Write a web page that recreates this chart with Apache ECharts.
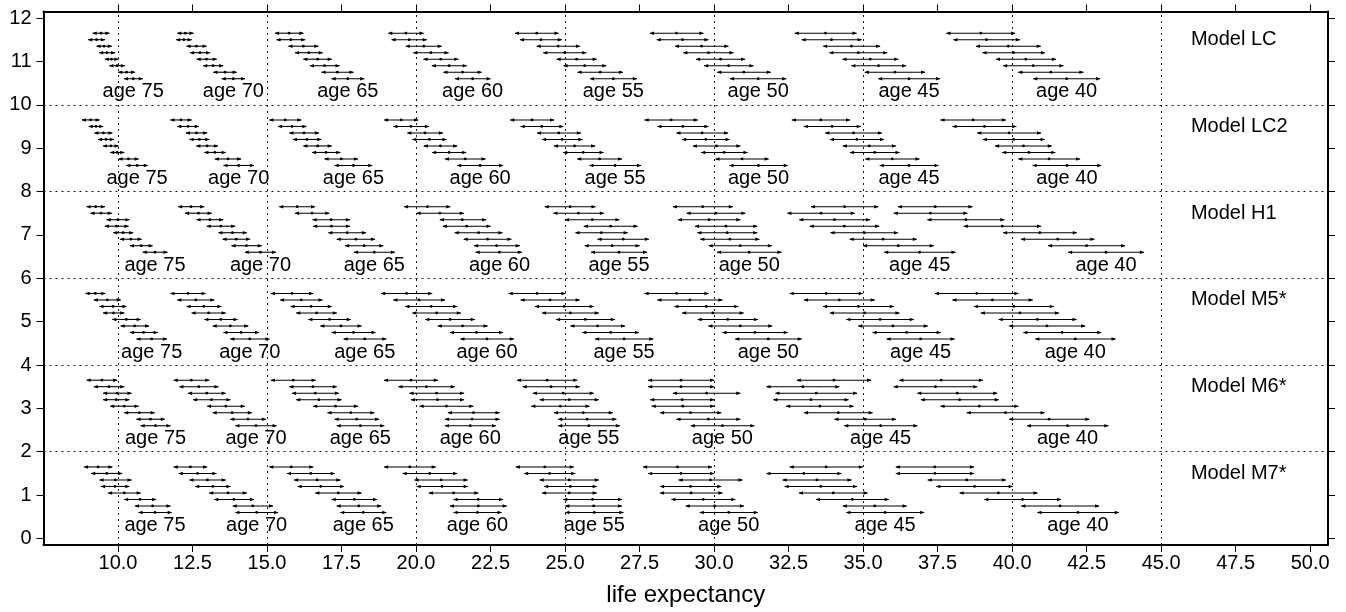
<!DOCTYPE html>
<html><head><meta charset="utf-8">
<script src="https://cdn.jsdelivr.net/npm/echarts@6/dist/echarts.min.js"></script>
<style>html,body{margin:0;padding:0;background:#fff}#c{width:1346px;height:612px}</style>
</head><body><div id="c"></div>
<script>
// ---- data: each row = [lower, point estimate, upper] life expectancy ----
const ages = [75, 70, 65, 60, 55, 50, 45, 40];
const modelNames = ['Model LC', 'Model LC2', 'Model H1', 'Model M5*', 'Model M6*', 'Model M7*'];
const xTicks = [10, 12.5, 15, 17.5, 20, 22.5, 25, 27.5, 30, 32.5, 35, 37.5, 40, 42.5, 45, 47.5, 50];
const yTicks = [0,1,2,3,4,5,6,7,8,9,10,11,12];
const vGrid = [10, 15, 20, 25, 30, 35, 40, 45];
const hGrid = [2, 4, 6, 8, 10];

const LC_75 = [[9.15,9.43,9.71],[9.00,9.28,9.56],[9.28,9.53,9.79],[9.37,9.63,9.90],[9.56,9.78,10.01],[9.71,9.97,10.23],[10.01,10.29,10.57],[10.20,10.51,10.83]];
const LC_70 = [[11.99,12.26,12.53],[11.95,12.21,12.47],[12.30,12.63,12.97],[12.42,12.75,13.09],[12.64,12.97,13.31],[12.86,13.19,13.53],[13.20,13.59,13.98],[13.48,13.87,14.26]];
const LC_65 = [[15.27,15.74,16.22],[15.32,15.80,16.28],[15.72,16.22,16.72],[15.94,16.40,16.87],[16.22,16.70,17.17],[16.44,16.93,17.43],[16.83,17.36,17.90],[17.17,17.71,18.26]];
const LC_60 = [[19.07,19.66,20.25],[19.18,19.77,20.36],[19.66,20.26,20.86],[19.91,20.50,21.09],[20.25,20.83,21.42],[20.53,21.11,21.70],[20.92,21.56,22.20],[21.31,21.90,22.50]];
const LC_55 = [[23.32,24.05,24.78],[23.49,24.19,24.89],[24.05,24.77,25.50],[24.27,24.99,25.71],[24.72,25.39,26.06],[24.95,25.66,26.38],[25.42,26.18,26.94],[25.84,26.62,27.41]];
const LC_50 = [[27.85,28.74,29.64],[28.08,28.94,29.81],[28.69,29.58,30.48],[28.97,29.81,30.65],[29.40,30.22,31.04],[29.67,30.49,31.32],[30.11,31.00,31.90],[30.54,31.48,32.42]];
const LC_45 = [[32.71,33.74,34.78],[32.94,33.94,34.95],[33.66,34.61,35.57],[33.87,34.84,35.81],[34.31,35.24,36.18],[34.61,35.52,36.44],[35.06,36.07,37.08],[35.51,36.54,37.58]];
const LC_40 = [[37.80,38.95,40.10],[38.03,39.14,40.26],[38.79,39.87,40.96],[39.01,40.05,41.10],[39.46,40.46,41.47],[39.70,40.71,41.72],[40.21,41.30,42.39],[40.71,41.83,42.95]];

const LC2_75 = [[8.79,9.08,9.38],[9.02,9.26,9.50],[9.21,9.51,9.81],[9.33,9.60,9.86],[9.50,9.76,10.02],[9.74,9.97,10.21],[10.02,10.35,10.69],[10.28,10.64,11.00]];
const LC2_70 = [[11.76,12.11,12.47],[11.99,12.35,12.71],[12.28,12.63,12.99],[12.40,12.73,13.06],[12.63,12.99,13.35],[12.90,13.25,13.61],[13.25,13.69,14.13],[13.54,14.05,14.56]];
const LC2_65 = [[15.08,15.61,16.15],[15.37,15.84,16.32],[15.75,16.24,16.74],[15.87,16.34,16.82],[16.22,16.70,17.17],[16.51,16.98,17.46],[16.93,17.49,18.05],[17.27,17.90,18.53]];
const LC2_60 = [[18.93,19.50,20.07],[19.24,19.83,20.43],[19.71,20.30,20.90],[19.88,20.45,21.02],[20.26,20.82,21.38],[20.54,21.11,21.68],[20.97,21.65,22.33],[21.38,22.15,22.92]];
const LC2_55 = [[23.16,23.89,24.63],[23.51,24.22,24.94],[24.06,24.79,25.53],[24.23,24.90,25.58],[24.63,25.32,26.01],[24.94,25.61,26.29],[25.41,26.16,26.91],[25.82,26.68,27.55]];
const LC2_50 = [[27.67,28.56,29.45],[28.10,28.95,29.81],[28.74,29.60,30.47],[28.93,29.72,30.52],[29.29,30.08,30.88],[29.57,30.34,31.12],[30.05,30.94,31.83],[30.52,31.49,32.47]];
const LC2_45 = [[32.61,33.58,34.56],[33.01,33.96,34.92],[33.73,34.68,35.63],[33.89,34.79,35.70],[34.32,35.21,36.10],[34.56,35.39,36.22],[35.08,35.98,36.89],[35.56,36.54,37.53]];
const LC2_40 = [[37.60,38.69,39.79],[38.00,39.07,40.14],[38.83,39.90,40.97],[39.02,40.05,41.09],[39.43,40.38,41.33],[39.67,40.56,41.45],[40.21,41.24,42.28],[40.69,41.84,42.99]];

const H1_75 = [[8.95,9.25,9.56],[9.08,9.43,9.79],[9.62,10.00,10.38],[9.56,9.95,10.35],[9.84,10.17,10.51],[10.07,10.43,10.79],[10.40,10.78,11.16],[10.83,11.24,11.66]];
const H1_70 = [[12.02,12.45,12.89],[12.25,12.70,13.14],[12.64,13.08,13.53],[12.98,13.45,13.93],[13.37,13.84,14.32],[13.51,13.97,14.43],[13.81,14.31,14.82],[14.26,14.78,15.30]];
const H1_65 = [[15.41,16.01,16.61],[15.94,16.51,17.09],[16.53,17.15,17.78],[16.55,17.16,17.78],[17.06,17.69,18.32],[17.34,17.98,18.62],[17.62,18.26,18.90],[17.92,18.60,19.29]];
const H1_60 = [[19.60,20.38,21.15],[20.02,20.80,21.60],[20.80,21.55,22.35],[20.90,21.70,22.50],[21.30,22.10,22.90],[21.60,22.40,23.20],[21.95,22.70,23.48],[22.00,22.80,23.55]];
const H1_55 = [[24.32,25.17,26.02],[24.61,25.45,26.30],[25.00,25.91,26.82],[25.63,26.53,27.43],[25.35,26.22,27.10],[26.09,26.95,27.81],[25.66,26.58,27.50],[25.87,26.81,27.75]];
const H1_50 = [[28.62,29.62,30.63],[29.08,30.06,31.05],[28.79,29.83,30.88],[29.36,30.40,31.45],[29.44,30.44,31.45],[29.54,30.53,31.52],[29.82,30.88,31.94],[30.10,31.18,32.26]];
const H1_45 = [[33.25,34.38,35.51],[32.46,33.59,34.72],[32.86,34.04,35.23],[33.21,34.37,35.54],[33.91,35.04,36.17],[34.55,35.67,36.80],[35.00,36.18,37.37],[35.71,36.90,38.10]];
const H1_40 = [[36.17,37.42,38.67],[36.03,37.26,38.50],[37.16,38.45,39.74],[38.38,39.67,40.97],[39.70,40.93,42.17],[40.30,41.53,42.76],[41.21,42.50,43.79],[41.88,43.15,44.42]];

const M5_75 = [[8.91,9.24,9.57],[9.19,9.64,10.09],[9.38,9.83,10.28],[9.50,9.85,10.21],[9.81,10.28,10.76],[10.09,10.56,11.04],[10.40,10.86,11.33],[10.62,11.13,11.64]];
const M5_70 = [[11.76,12.35,12.94],[11.99,12.61,13.23],[12.30,12.88,13.47],[12.47,13.04,13.61],[12.90,13.45,14.01],[13.18,13.77,14.37],[13.54,14.13,14.73],[13.77,14.42,15.08]];
const M5_65 = [[15.13,15.84,16.55],[15.44,16.15,16.86],[15.79,16.48,17.17],[15.98,16.66,17.34],[16.39,17.10,17.81],[16.79,17.48,18.17],[17.17,17.90,18.64],[17.57,18.28,19.00]];
const M5_60 = [[18.83,19.68,20.54],[19.24,20.10,20.97],[19.64,20.51,21.38],[19.88,20.69,21.50],[20.31,21.14,21.97],[20.73,21.56,22.40],[21.14,22.03,22.92],[21.49,22.38,23.28]];
const M5_55 = [[23.11,24.06,25.01],[23.51,24.50,25.49],[23.99,24.97,25.96],[24.23,25.18,26.13],[24.70,25.68,26.67],[25.18,26.09,27.01],[25.58,26.53,27.48],[26.01,26.98,27.96]];
const M5_50 = [[27.67,28.74,29.81],[28.10,29.19,30.28],[28.67,29.74,30.81],[28.93,29.96,30.99],[29.45,30.46,31.47],[29.81,30.88,31.95],[30.28,31.37,32.47],[30.71,31.82,32.94]];
const M5_45 = [[32.54,33.76,34.99],[33.02,34.20,35.39],[33.66,34.84,36.03],[33.89,35.05,36.22],[34.44,35.57,36.70],[34.84,36.00,37.17],[35.32,36.46,37.60],[35.79,36.93,38.07]];
const M5_40 = [[37.41,38.81,40.21],[38.00,39.34,40.69],[38.72,40.06,41.40],[38.95,40.26,41.57],[39.55,40.85,42.16],[39.90,41.17,42.45],[40.38,41.68,42.99],[40.78,42.12,43.47]];

const M6_75 = [[8.95,9.46,9.97],[9.19,9.70,10.21],[9.50,9.97,10.45],[9.50,9.94,10.38],[9.74,10.21,10.69],[10.21,10.72,11.23],[10.62,11.09,11.57],[10.76,11.26,11.76]];
const M6_70 = [[11.87,12.46,13.06],[12.06,12.71,13.37],[12.35,12.98,13.61],[12.52,13.14,13.77],[12.99,13.62,14.25],[13.18,13.83,14.49],[13.77,14.36,14.96],[13.94,14.63,15.32]];
const M6_65 = [[15.13,15.88,16.63],[15.75,16.54,17.34],[15.84,16.62,17.41],[15.98,16.74,17.50],[16.55,17.30,18.05],[17.03,17.81,18.60],[17.27,18.01,18.76],[17.34,18.13,18.93]];
const M6_60 = [[18.93,19.83,20.73],[19.41,20.35,21.30],[19.78,20.69,21.61],[19.83,20.72,21.61],[20.12,21.02,21.92],[21.07,21.93,22.80],[20.97,21.88,22.80],[20.97,21.82,22.68]];
const M6_55 = [[23.39,24.40,25.41],[23.58,24.53,25.49],[23.92,24.94,25.96],[24.15,25.14,26.13],[23.87,24.84,25.82],[24.63,25.61,26.60],[24.77,25.74,26.72],[24.77,25.80,26.84]];
const M6_50 = [[27.79,28.89,30.00],[27.79,28.89,30.00],[28.62,29.75,30.88],[27.86,28.93,30.00],[27.91,28.95,30.00],[28.19,29.21,30.24],[28.74,29.81,30.88],[29.22,30.28,31.35]];
const M6_45 = [[32.78,34.02,35.27],[31.76,32.98,34.20],[32.06,33.43,34.80],[31.99,33.25,34.51],[32.42,33.55,34.68],[33.02,34.17,35.32],[34.04,35.07,36.10],[34.37,35.59,36.82]];
const M6_40 = [[36.22,37.62,39.02],[36.03,37.43,38.83],[36.82,38.16,39.50],[36.94,38.24,39.55],[37.60,38.90,40.21],[38.48,39.78,41.09],[39.90,41.24,42.59],[40.50,41.86,43.23]];

const M7_75 = [[8.86,9.33,9.81],[9.10,9.62,10.14],[9.38,9.91,10.45],[9.43,9.90,10.38],[9.67,10.21,10.76],[10.21,10.74,11.28],[10.57,11.16,11.76],[10.69,11.24,11.80]];
const M7_70 = [[11.87,12.43,12.99],[12.04,12.67,13.30],[12.40,13.00,13.61],[12.59,13.18,13.77],[13.06,13.69,14.32],[13.23,13.89,14.56],[13.85,14.52,15.20],[13.94,14.65,15.37]];
const M7_65 = [[15.08,15.81,16.55],[15.67,16.47,17.27],[15.91,16.68,17.46],[16.03,16.80,17.58],[16.62,17.39,18.17],[17.17,17.93,18.69],[17.34,18.08,18.83],[17.46,18.23,19.00]];
const M7_60 = [[18.93,19.79,20.66],[19.55,20.46,21.38],[19.95,20.84,21.73],[20.02,20.87,21.73],[20.43,21.26,22.09],[21.26,22.09,22.92],[21.14,22.09,23.04],[21.26,22.06,22.87]];
const M7_55 = [[23.35,24.32,25.29],[23.63,24.48,25.34],[24.15,25.14,26.13],[24.30,25.18,26.06],[24.23,25.14,26.06],[24.94,25.92,26.91],[25.01,25.96,26.91],[25.01,25.98,26.96]];
const M7_50 = [[27.62,28.77,29.93],[27.79,28.89,30.00],[28.81,29.88,30.95],[28.19,29.21,30.24],[28.19,29.23,30.28],[28.57,29.64,30.71],[29.05,30.02,31.00],[29.52,30.49,31.47]];
const M7_45 = [[32.54,33.76,34.99],[31.76,33.01,34.27],[32.30,33.45,34.61],[32.37,33.58,34.80],[32.85,34.00,35.15],[33.42,34.64,35.86],[34.32,35.39,36.46],[34.44,35.74,37.05]];
const M7_40 = [[36.10,37.41,38.72],[36.10,37.41,38.72],[37.17,38.48,39.79],[37.46,38.74,40.02],[38.24,39.54,40.85],[39.07,40.35,41.64],[40.31,41.61,42.92],[40.85,42.21,43.58]];

// panels from top to bottom
const panels = [
  [LC_75, LC_70, LC_65, LC_60, LC_55, LC_50, LC_45, LC_40],
  [LC2_75, LC2_70, LC2_65, LC2_60, LC2_55, LC2_50, LC2_45, LC2_40],
  [H1_75, H1_70, H1_65, H1_60, H1_55, H1_50, H1_45, H1_40],
  [M5_75, M5_70, M5_65, M5_60, M5_55, M5_50, M5_45, M5_40],
  [M6_75, M6_70, M6_65, M6_60, M6_55, M6_50, M6_45, M6_40],
  [M7_75, M7_70, M7_65, M7_60, M7_55, M7_50, M7_45, M7_40]
];

// ---- build series data ----
const intervals = [];
const ageLabels = [];
const modelLabels = [];
panels.forEach((groups, p) => {
  const base = 2 * (panels.length - 1 - p);
  groups.forEach((rows, g) => {
    rows.forEach((r, k) => {
      intervals.push([r[0], r[1], r[2], base + 1.65 - 0.15 * k]);
    });
    ageLabels.push([rows[rows.length - 1][1], base + 0.3, 'age ' + ages[g]]);
  });
  modelLabels.push([46, base + 1.5, modelNames[p]]);
});

const FONT = 'Liberation Sans, Arial, Helvetica, sans-serif';
const chart = echarts.init(document.getElementById('c'), null, {renderer: 'canvas'});

function renderInterval(params, api) {
  const y = api.value(3);
  const lo = api.coord([api.value(0), y]);
  const md = api.coord([api.value(1), y]);
  const hi = api.coord([api.value(2), y]);
  const py = lo[1];
  const ah = 4, aw = 1.7;
  return {
    type: 'group',
    children: [
      {type: 'line', shape: {x1: lo[0], y1: py, x2: hi[0], y2: py}, style: {stroke: '#000', lineWidth: 1.1}},
      {type: 'polygon', shape: {points: [[lo[0] - 0.5, py], [lo[0] + ah, py - aw], [lo[0] + ah, py + aw]]}, style: {fill: '#000'}},
      {type: 'polygon', shape: {points: [[hi[0] + 0.5, py], [hi[0] - ah, py - aw], [hi[0] - ah, py + aw]]}, style: {fill: '#000'}},
      {type: 'circle', shape: {cx: md[0], cy: py, r: 1.4}, style: {fill: '#000'}}
    ]
  };
}

function renderText(align) {
  return function (params, api) {
    const pt = api.coord([api.value(0), api.value(1)]);
    return {
      type: 'text',
      x: pt[0], y: pt[1],
      style: {text: api.value(2), fill: '#000', font: '20px ' + FONT, align: align, verticalAlign: 'middle'}
    };
  };
}

const tickStyle = {show: true, length: 7, inside: false, lineStyle: {color: '#000', width: 1}};
const lineStyleAxis = {show: true, onZero: false, lineStyle: {color: '#000', width: 2}};

chart.setOption({
  animation: false,
  backgroundColor: '#fff',
  grid: {left: 43.5, right: 18, top: 11.5, bottom: 65.5, show: false, containLabel: false},
  xAxis: [
    {type: 'value', position: 'bottom', min: 7.5, max: 50.6,
      axisLine: lineStyleAxis,
      axisTick: Object.assign({customValues: xTicks}, tickStyle),
      axisLabel: {customValues: xTicks, formatter: v => v.toFixed(1), fontSize: 20, fontFamily: FONT, color: '#000', margin: 8},
      splitLine: {show: false},
      name: 'life expectancy', nameLocation: 'middle', nameGap: 38,
      nameTextStyle: {fontSize: 24, fontFamily: FONT, color: '#000'}},
    {type: 'value', position: 'top', min: 7.5, max: 50.6,
      axisLine: lineStyleAxis,
      axisTick: Object.assign({customValues: xTicks}, tickStyle),
      axisLabel: {show: false}, splitLine: {show: false}}
  ],
  yAxis: [
    {type: 'value', position: 'left', min: -0.15, max: 12.15,
      axisLine: lineStyleAxis,
      axisTick: Object.assign({customValues: yTicks}, tickStyle),
      axisLabel: {customValues: yTicks, fontSize: 20, fontFamily: FONT, color: '#000', margin: 12},
      splitLine: {show: false}},
    {type: 'value', position: 'right', min: -0.15, max: 12.15,
      axisLine: lineStyleAxis,
      axisTick: Object.assign({customValues: yTicks}, tickStyle),
      axisLabel: {show: false}, splitLine: {show: false}}
  ],
  series: [
    {type: 'custom', name: 'intervals', renderItem: renderInterval, data: intervals,
      encode: {x: [0, 1, 2], y: 3}, silent: true, z: 3,
      markLine: {silent: true, symbol: 'none', label: {show: false}, z: 1,
        lineStyle: {color: '#000', width: 1, type: [2, 4], opacity: 0.9},
        data: vGrid.map(v => ({xAxis: v})).concat(hGrid.map(v => ({yAxis: v})))}},
    {type: 'custom', name: 'ageLabels', renderItem: renderText('center'), data: ageLabels,
      encode: {x: 0, y: 1}, silent: true, z: 4},
    {type: 'custom', name: 'modelLabels', renderItem: renderText('left'), data: modelLabels,
      encode: {x: 0, y: 1}, silent: true, z: 4}
  ]
});
</script>
</body></html>
